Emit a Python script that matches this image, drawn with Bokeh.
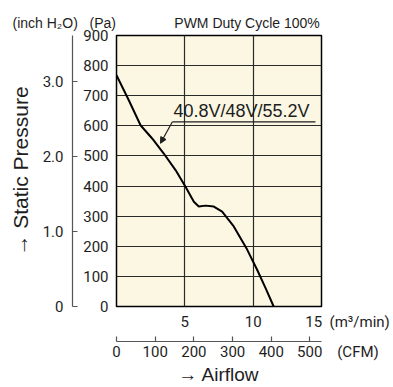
from bokeh.plotting import figure
from bokeh.models import Range1d, LinearAxis, FixedTicker, Label, Arrow, NormalHead
from bokeh.embed import file_html
from bokeh.resources import INLINE

# ---- data ----
airflow_m3min = [0.0, 0.90, 1.76, 2.61, 3.46, 4.32, 5.05, 5.66, 6.02, 6.51, 7.12, 7.73,
                 8.58, 9.56, 10.29, 10.90, 11.50]
static_pressure_pa = [768, 685, 602, 558, 508, 453, 398, 348, 332, 335, 332, 315,
                      266, 189, 122, 62, 0]
pa_ticks = [0, 100, 200, 300, 400, 500, 600, 700, 800, 900]
inch_ticks = [0, 1, 2, 3]
inch_tick_labels = ["0", "1.0", "2.0", "3.0"]
m3_ticks = [5, 10, 15]
cfm_ticks = [0, 100, 200, 300, 400, 500]
curve_label = "40.8V/48V/55.2V"
chart_title = "PWM Duty Cycle 100%"
inch_unit = "(inch H\u2082O)"
pa_unit = "(Pa)"
m3_unit = "(m\u00b3/min)"
cfm_unit = "(CFM)"

PA_PER_INCH = 249.089
CFM_PER_M3MIN = 35.3147

NUM_FONT = "Roboto"
TXT_FONT = "Liberation Sans"
INK = "#1e1e1e"
NB = "\u00a0"

p = figure(width=393, height=387,
           x_range=Range1d(0, 15), y_range=Range1d(0, 900),
           output_backend="svg", toolbar_location=None,
           min_border_left=116, min_border_right=72,
           min_border_top=35, min_border_bottom=80,
           background_fill_color="#FBF7E3", border_fill_color="white",
           outline_line_color="black", outline_line_width=1.5)

# top text row (units of the left axes + chart title)
p.title.text = inch_unit + NB * 3 + pa_unit + NB * 15 + chart_title
p.title.align = "left"
p.title.offset = -104
p.title.text_font = TXT_FONT
p.title.text_font_size = "14px"
p.title.text_font_style = "normal"
p.title.text_color = INK

# grid
p.xgrid.ticker = FixedTicker(ticks=m3_ticks)
p.ygrid.ticker = FixedTicker(ticks=pa_ticks)
for g in (p.xgrid, p.ygrid):
    g.grid_line_color = "#2a2a2a"
    g.grid_line_width = 1.2

# Pa axis (left, adjacent to frame)
ya = p.yaxis[0]
ya.ticker = FixedTicker(ticks=pa_ticks)
ya.axis_line_color = None
ya.major_tick_line_color = None
ya.minor_tick_line_color = None
ya.major_tick_out = 0
ya.major_tick_in = 0
ya.major_label_standoff = 8
ya.major_label_text_font = NUM_FONT
ya.major_label_text_font_size = "15px"
ya.major_label_text_color = INK
ya.axis_label = " "
ya.axis_label_text_font_size = "1px"
ya.axis_label_standoff = 4

# inch H2O axis (left, outer)
p.extra_y_ranges = {"inch": Range1d(0, 900 / PA_PER_INCH)}
ia = LinearAxis(y_range_name="inch",
                ticker=FixedTicker(ticks=inch_ticks),
                major_label_overrides={t: s for t, s in zip(inch_ticks, inch_tick_labels)},
                axis_line_color="#555555", axis_line_width=1.2,
                major_tick_line_color="#555555", major_tick_line_width=1.2,
                major_tick_in=5, major_tick_out=0,
                minor_tick_line_color=None,
                major_label_standoff=9,
                major_label_text_font=NUM_FONT, major_label_text_font_size="15px",
                major_label_text_color=INK,
                axis_label="\u2192 Static Pressure",
                axis_label_text_font=TXT_FONT, axis_label_text_font_size="21px",
                axis_label_text_font_style="normal", axis_label_text_color=INK,
                axis_label_standoff=8)
p.add_layout(ia, "left")

# m3/min axis (below, adjacent to frame); unit text follows the last tick
xa = p.xaxis[0]
xa.ticker = FixedTicker(ticks=m3_ticks)
xa.major_label_overrides = {m3_ticks[-1]: NB * 14 + str(m3_ticks[-1]) + NB * 2 + m3_unit}
xa.axis_line_color = None
xa.major_tick_line_color = None
xa.minor_tick_line_color = None
xa.major_tick_out = 0
xa.major_tick_in = 0
xa.major_label_standoff = 6
xa.major_label_text_font = NUM_FONT
xa.major_label_text_font_size = "15px"
xa.major_label_text_color = INK
xa.axis_label = " "
xa.axis_label_text_font_size = "1px"
xa.axis_label_standoff = 4

# CFM axis (below, outer); unit text follows the last tick
p.extra_x_ranges = {"cfm": Range1d(0, 15 * CFM_PER_M3MIN)}
ca = LinearAxis(x_range_name="cfm",
                ticker=FixedTicker(ticks=cfm_ticks),
                major_label_overrides={cfm_ticks[-1]: NB * 15 + str(cfm_ticks[-1]) + NB * 4 + cfm_unit},
                axis_line_color="#555555", axis_line_width=1.2,
                major_tick_line_color="#555555", major_tick_line_width=1.2,
                major_tick_in=5, major_tick_out=0,
                minor_tick_line_color=None,
                major_label_standoff=1,
                major_label_text_font=NUM_FONT, major_label_text_font_size="15px",
                major_label_text_color=INK,
                axis_label="\u2192 Airflow",
                axis_label_text_font=TXT_FONT, axis_label_text_font_size="19px",
                axis_label_text_font_style="normal", axis_label_text_color=INK,
                axis_label_standoff=0)
p.add_layout(ca, "below")

# curve
p.line(airflow_m3min, static_pressure_pa, line_color="black", line_width=2)

# curve label with underline and leader arrow
p.add_layout(Label(x=4.17, y=650, text=curve_label, text_font=TXT_FONT,
                   text_font_size="18px", text_color=INK, text_baseline="alphabetic"))
p.add_layout(Arrow(x_start=4.08, y_start=613, x_end=14.56, y_end=613, end=None,
                   line_color=INK, line_width=1.2))
p.add_layout(Arrow(x_start=4.08, y_start=613, x_end=3.22, y_end=542,
                   end=NormalHead(size=6, fill_color=INK, line_color=INK),
                   line_color=INK, line_width=1.2))

open("out.html", "w").write(file_html(p, INLINE))
